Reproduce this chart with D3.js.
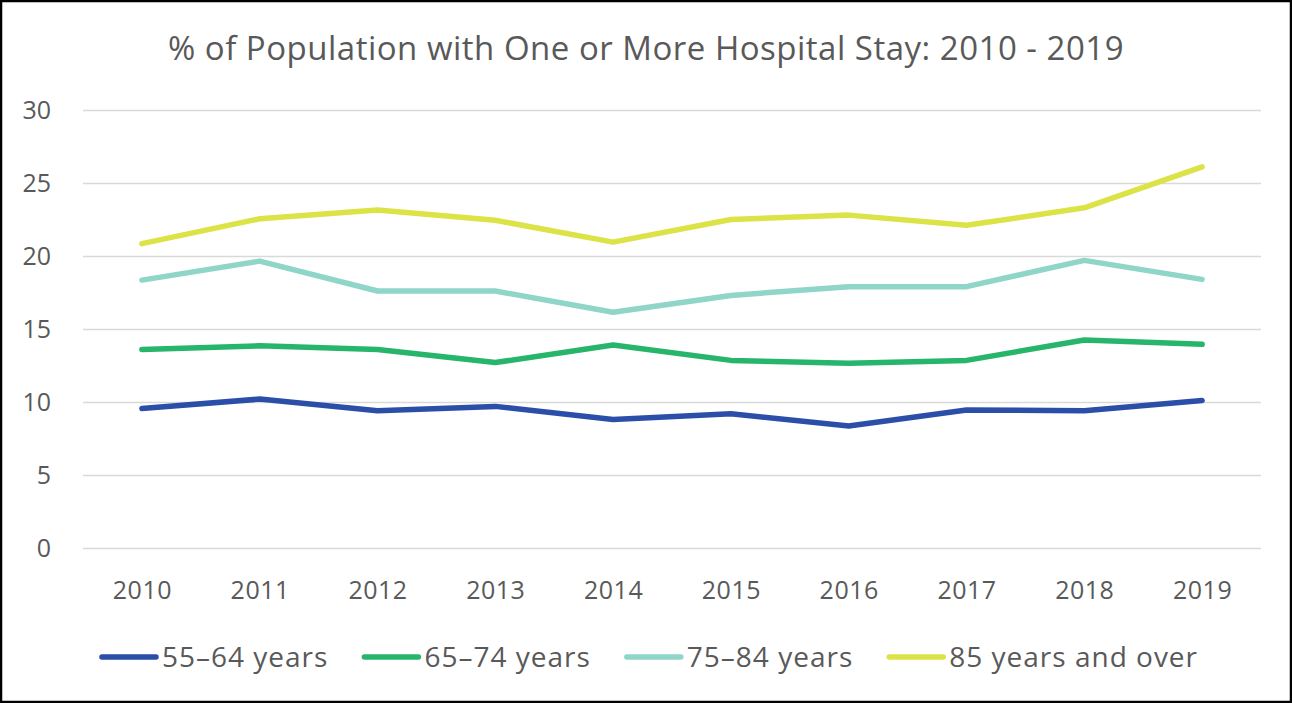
<!DOCTYPE html>
<html>
<head>
<meta charset="utf-8">
<script src="https://cdn.jsdelivr.net/npm/d3@7"></script>
<style>
  body { margin: 0; background: #fff; }
  text { font-family: "Open Sans", sans-serif; fill: #595959; }
</style>
</head>
<body>
<div class="chart"></div>
<script>
var svgWidth = 1292;
var svgHeight = 703;

var years = ["2010", "2011", "2012", "2013", "2014", "2015", "2016", "2017", "2018", "2019"];
var seriesNames = ["55\u201364 years", "65\u201374 years", "75\u201384 years", "85 years and over"];
var seriesColors = ["#2b4ea8", "#27b56b", "#8fd5c8", "#dce346"];
var age55to64 = [9.55, 10.2, 9.4, 9.7, 8.8, 9.2, 8.35, 9.45, 9.4, 10.1];
var age65to74 = [13.6, 13.85, 13.6, 12.7, 13.9, 12.85, 12.65, 12.85, 14.25, 13.95];
var age75to84 = [18.35, 19.65, 17.6, 17.6, 16.15, 17.3, 17.9, 17.9, 19.7, 18.4];
var age85plus = [20.85, 22.55, 23.15, 22.45, 20.95, 22.5, 22.8, 22.1, 23.3, 26.1];
var yTicks = [0, 5, 10, 15, 20, 25, 30];

var allSeries = [age55to64, age65to74, age75to84, age85plus];

var margin = { top: 110, right: 31, bottom: 155, left: 83 };
var width = svgWidth - margin.left - margin.right;
var height = svgHeight - margin.top - margin.bottom;

var svg = d3.select(".chart")
  .append("svg")
  .attr("width", svgWidth)
  .attr("height", svgHeight);

// outer frame
svg.append("rect")
  .attr("x", 1)
  .attr("y", 1)
  .attr("width", svgWidth - 2)
  .attr("height", svgHeight - 2)
  .attr("fill", "#fff")
  .attr("stroke", "#000")
  .attr("stroke-width", 2.5);

svg.append("text")
  .attr("x", svgWidth / 2)
  .attr("y", 60)
  .attr("text-anchor", "middle")
  .attr("font-size", "33px")
  .attr("letter-spacing", "0.5px")
  .text("% of Population with One or More Hospital Stay: 2010 - 2019");

var chartGroup = svg.append("g")
  .attr("transform", `translate(${margin.left}, ${margin.top})`);

var xScale = d3.scalePoint()
  .domain(years)
  .range([0, width])
  .padding(0.5);

var yScale = d3.scaleLinear()
  .domain([0, 30])
  .range([height, 0]);

// gridlines + y labels
var leftAxis = d3.axisLeft(yScale)
  .tickValues(yTicks)
  .tickSize(-width)
  .tickPadding(32);

var yAxisG = chartGroup.append("g").call(leftAxis);
yAxisG.select(".domain").remove();
yAxisG.selectAll("line").attr("stroke", "#d9d9d9").attr("stroke-width", 1.5);
yAxisG.selectAll("text")
  .attr("font-size", "25px")
  .style("font-family", "'Open Sans', sans-serif")
  .attr("fill", "#595959");

var bottomAxis = d3.axisBottom(xScale).tickSize(0).tickPadding(33);
var xAxisG = chartGroup.append("g")
  .attr("transform", `translate(0, ${height})`)
  .call(bottomAxis);
xAxisG.select(".domain").remove();
xAxisG.selectAll("text")
  .attr("font-size", "25px")
  .attr("letter-spacing", "0.5px")
  .style("font-family", "'Open Sans', sans-serif")
  .attr("fill", "#595959");

var line = d3.line()
  .x((d, i) => xScale(years[i]))
  .y(d => yScale(d));

chartGroup.selectAll(".series")
  .data(allSeries)
  .enter()
  .append("path")
  .attr("class", "series")
  .attr("d", d => line(d))
  .attr("fill", "none")
  .attr("stroke", (d, i) => seriesColors[i])
  .attr("stroke-width", 5.5)
  .attr("stroke-linecap", "round")
  .attr("stroke-linejoin", "round");

// legend
var legend = svg.append("g");
var lx = 0;
seriesNames.forEach(function(name, i) {
  var item = legend.append("g").attr("transform", `translate(${lx}, 0)`);
  item.append("line")
    .attr("x1", 2).attr("x2", 56)
    .attr("y1", 0).attr("y2", 0)
    .attr("stroke", seriesColors[i])
    .attr("stroke-width", 5.5)
    .attr("stroke-linecap", "round");
  var t = item.append("text")
    .attr("x", 62)
    .attr("y", 10)
    .attr("font-size", "28px")
    .attr("letter-spacing", "1px")
    .text(name);
  lx += 62 + t.node().getComputedTextLength() + 34;
});
var legendWidth = lx - 34;
legend.attr("transform", `translate(${(svgWidth - legendWidth) / 2 + 3}, 657)`);
</script>
</body>
</html>
